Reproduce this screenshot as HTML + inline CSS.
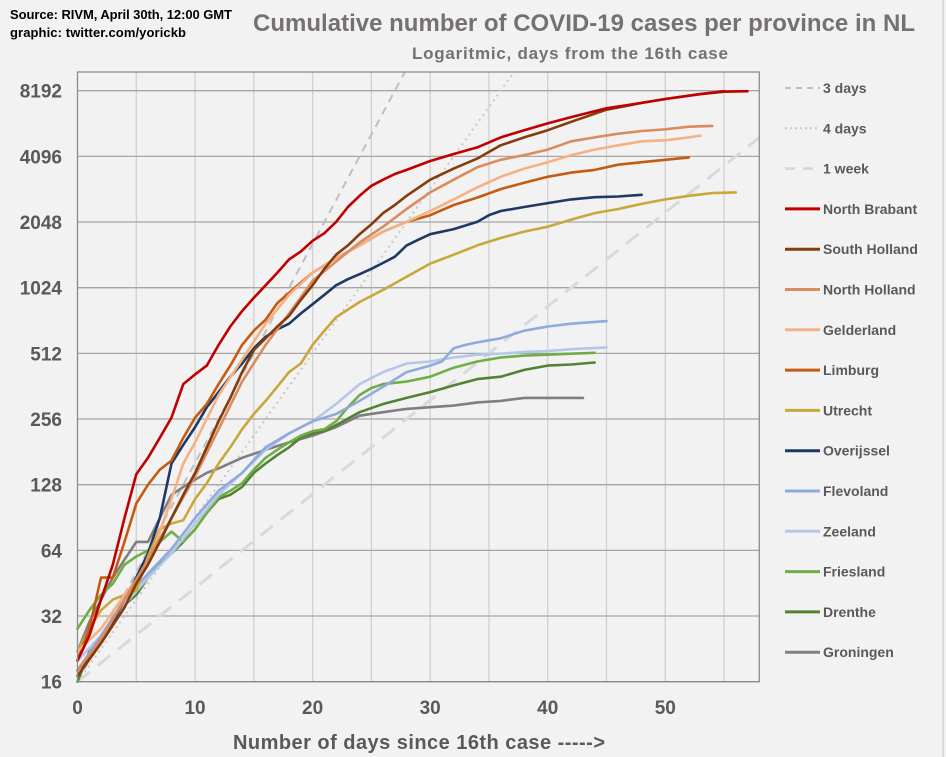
<!DOCTYPE html>
<html><head><meta charset="utf-8"><style>
html,body{margin:0;padding:0;background:#f2f2f2;}
svg{display:block;font-family:"Liberation Sans",sans-serif;}
</style></head><body>
<svg id="chart" width="946" height="757" viewBox="0 0 946 757">
<rect x="0" y="0" width="946" height="757" fill="#f2f2f2"/>
<line x1="943" y1="0" x2="943" y2="757" stroke="#d9d9d9" stroke-width="2"/>
<text x="10" y="19" font-size="13" font-weight="bold" fill="#000" textLength="222">Source: RIVM, April 30th, 12:00  GMT</text>
<text x="10" y="37" font-size="13" font-weight="bold" fill="#000" textLength="176">graphic: twitter.com/yorickb</text>
<text x="253" y="31" font-size="24" font-weight="bold" fill="#767171" textLength="662">Cumulative number of COVID-19 cases per province in NL</text>
<text x="412" y="59" font-size="17" font-weight="bold" fill="#767171" textLength="316">Logaritmic,   days from the 16th case</text>
<g id="grid"></g>
<g id="series"></g>
<rect x="77.5" y="72" width="681.8" height="609.7" fill="none" stroke="#8c8c8c" stroke-width="1.3"/>
<g id="axes"></g>
<text x="233" y="749" font-size="20" font-weight="bold" fill="#595959" textLength="372">Number of days since 16th case  -----&gt;</text>
<g id="legend"></g>
</svg>
<script>
const yTicks=[16,32,64,128,256,512,1024,2048,4096,8192];
const xTicks=[0,10,20,30,40,50];
const refNames=["3 days","4 days","1 week"];
const refDoubling=[3,4,7];
const provinces=["North Brabant","South Holland","North Holland","Gelderland","Limburg","Utrecht","Overijssel","Flevoland","Zeeland","Friesland","Drenthe","Groningen"];
const colors=["#c00000","#843c0c","#d98c5f","#f4b183","#c55a11","#c9a83a","#1f3864","#8faadc","#b4c7e7","#70ad47","#548235","#7f7f7f"];
const nbDays=[0,1,2,3,4,5,6,7,8,9,10,11,12,13,14,15,16,17,18,19,20,21,22,23,24,25,26,27,28,30,32,34,36,38,40,42,45,48,50,53,55,57];
const nbVals=[20,26,38,55,90,143,170,210,260,370,410,450,560,680,800,920,1050,1200,1380,1500,1680,1820,2050,2400,2700,3000,3200,3400,3550,3900,4200,4500,5000,5400,5800,6200,6800,7200,7500,7900,8100,8150];
const shDays=[0,2,4,5,6,7,8,9,10,11,12,13,14,15,16,17,18,19,20,21,22,23,24,25,26,27,28,30,32,34,36,38,40,42,45,48,50,53,55];
const shVals=[17,24,35,45,55,70,90,115,145,190,250,320,420,530,600,680,760,900,1050,1250,1450,1600,1800,2000,2250,2450,2700,3200,3600,4000,4600,5000,5400,5900,6700,7200,7500,7900,8150];
const nhDays=[0,2,4,6,8,10,12,14,16,18,20,22,24,26,28,30,32,34,36,38,40,42,44,46,48,50,52,54];
const nhVals=[18,25,38,58,90,140,230,380,560,780,1100,1350,1650,1950,2350,2800,3200,3650,3950,4150,4400,4800,5000,5200,5350,5450,5600,5650];
const glDays=[0,2,4,6,8,9,10,12,14,16,18,20,22,24,26,28,30,32,34,36,38,40,42,44,46,48,50,52,53];
const glVals=[22,28,40,55,110,160,200,330,480,700,950,1200,1400,1600,1850,2050,2300,2600,2950,3300,3600,3850,4150,4400,4600,4800,4850,5000,5100];
const lbDays=[0,1,2,3,4,5,6,7,8,9,10,11,12,13,14,15,16,17,18,19,20,22,24,26,28,30,32,34,36,38,40,42,44,46,48,50,52];
const lbVals=[20,28,48,48,70,105,128,150,165,210,260,300,370,450,560,650,730,870,970,1080,1200,1400,1600,1850,2050,2200,2450,2650,2900,3100,3300,3450,3550,3750,3850,3950,4050];
const utDays=[0,1,2,3,4,5,6,7,8,9,10,11,12,13,14,15,16,17,18,19,20,21,22,24,26,28,30,32,34,36,38,40,42,44,46,48,50,52,54,56];
const utVals=[22,28,34,38,40,42,60,80,85,88,110,130,160,190,230,270,310,360,420,460,560,650,750,880,1000,1150,1320,1450,1600,1730,1850,1950,2100,2250,2350,2480,2600,2700,2780,2800];
const ovDays=[0,1,2,3,4,5,6,7,8,9,10,11,12,13,14,15,16,17,18,19,20,21,22,23,24,25,26,27,28,29,30,32,34,35,36,38,40,42,44,46,48];
const ovVals=[18,21,25,30,38,48,62,90,160,195,235,290,340,400,460,540,610,660,700,780,860,950,1050,1120,1180,1250,1330,1420,1600,1700,1800,1900,2050,2200,2300,2400,2500,2600,2660,2680,2730];
const flDays=[0,2,4,6,8,10,12,14,16,18,20,22,24,26,28,30,31,32,33,34,36,38,40,42,45];
const flVals=[18,26,38,50,65,90,120,145,190,220,250,270,310,360,420,450,470,540,560,575,600,650,680,700,720];
const zlDays=[0,2,4,6,8,10,12,14,16,18,20,22,24,26,28,30,32,34,36,38,40,42,45];
const zlVals=[20,26,36,48,62,85,115,145,185,220,250,300,370,420,460,470,490,505,510,520,525,535,545];
const frDays=[0,1,2,3,4,5,6,7,8,9,10,11,12,13,14,15,16,17,18,19,20,21,22,23,24,25,26,28,30,32,34,36,38,40,42,44];
const frVals=[28,34,40,45,55,60,64,70,78,70,80,95,112,120,130,150,170,185,200,215,225,230,250,290,330,355,370,380,400,440,470,490,500,505,510,515];
const drDays=[0,1,2,3,4,5,6,7,8,9,10,11,12,13,14,15,16,17,18,19,20,21,22,24,26,28,30,32,34,36,38,40,42,44];
const drVals=[16,22,25,31,36,40,48,55,62,70,80,95,110,115,125,145,160,175,190,210,220,225,240,275,300,320,340,365,390,400,430,450,455,465];
const grDays=[0,1,2,3,4,5,6,7,8,9,10,11,12,14,16,18,20,22,24,26,28,30,32,34,36,38,40,43];
const grVals=[22,30,38,48,58,70,70,90,115,125,135,145,152,170,185,200,215,235,265,275,285,290,295,305,310,320,320,320];
const seriesDays=[nbDays,shDays,nhDays,glDays,lbDays,utDays,ovDays,flDays,zlDays,frDays,drDays,grDays];
const seriesVals=[nbVals,shVals,nhVals,glVals,lbVals,utVals,ovVals,flVals,zlVals,frVals,drVals,grVals];

const NS="http://www.w3.org/2000/svg";
const X0=77.5,X1=759.3,XMAX=58,Y0=681.7,PX_PER_DBL=65.67;
function xs(d){return X0+(X1-X0)*d/XMAX;}
function ys(v){return Y0-Math.log2(v/16)*PX_PER_DBL;}
function mk(tag,attrs,parent){const e=document.createElementNS(NS,tag);for(const k in attrs)e.setAttribute(k,attrs[k]);parent.appendChild(e);return e;}
const grid=document.getElementById('grid'),axes=document.getElementById('axes'),ser=document.getElementById('series'),leg=document.getElementById('legend');
for(let d=5;d<XMAX;d+=5){
  const l=mk('line',{x1:xs(d),x2:xs(d),y1:72,y2:Y0,stroke:'#d0d0d0','stroke-width':1.3},grid);
  
  
}
yTicks.forEach(v=>{
  const l=mk('line',{x1:X0,x2:X1,y1:ys(v),y2:ys(v),stroke:'#a6a6a6','stroke-width':1.3},grid);
  
  
  const t=mk('text',{x:62,y:ys(v)+7,'text-anchor':'end','font-size':19,'font-weight':'bold',fill:'#595959'},axes);
  t.textContent=v;
  
  
});
xTicks.forEach(d=>{
  const t=mk('text',{x:xs(d),y:714,'text-anchor':'middle','font-size':19,'font-weight':'bold',fill:'#595959'},axes);
  t.textContent=d;
  
  
});
// reference doubling lines
const refStyles=[{stroke:'#bfbfbf',dash:'8,6',w:2},{stroke:'#c8c8c8',dash:'2,4',w:2},{stroke:'#d9d9d9',dash:'16,10',w:3}];
const cp=mk('clipPath',{id:'clip'},document.getElementById('chart'));
mk('rect',{x:X0,y:72,width:X1-X0,height:Y0-72},cp);
refDoubling.forEach((dd,i)=>{
  const dEnd=Math.min(XMAX,dd*Math.log2(10500/16));
  const l=mk('line',{x1:xs(0),y1:ys(16),x2:xs(dEnd),y2:ys(16*Math.pow(2,dEnd/dd)),stroke:refStyles[i].stroke,'stroke-dasharray':refStyles[i].dash,'stroke-width':refStyles[i].w,'clip-path':'url(#clip)'},ser);
  
  
});
for(let i=seriesDays.length-1;i>=0;i--){
  const pts=seriesDays[i].map((d,j)=>xs(d).toFixed(1)+','+ys(seriesVals[i][j]).toFixed(1)).join(' ');
  const p=mk('polyline',{points:pts,fill:'none',stroke:colors[i],'stroke-width':2.6,'stroke-linejoin':'round','stroke-linecap':'round'},ser);
  
  
}
// legend
const allNames=refNames.concat(provinces);
allNames.forEach((n,i)=>{
  const y=88+i*40.3;
  let l;
  if(i<3){l=mk('line',{x1:785,x2:820,y1:y,y2:y,stroke:refStyles[i].stroke,'stroke-dasharray':i==0?'6,5':(i==1?'2,3':'10,8'),'stroke-width':refStyles[i].w},leg);}
  else{l=mk('line',{x1:785,x2:820,y1:y,y2:y,stroke:colors[i-3],'stroke-width':3},leg);}
  
  
  const t=mk('text',{x:823,y:y+5,'font-size':14,'font-weight':'bold',fill:'#595959'},leg);
  t.textContent=n;
  
  
});
</script>
</body></html>
